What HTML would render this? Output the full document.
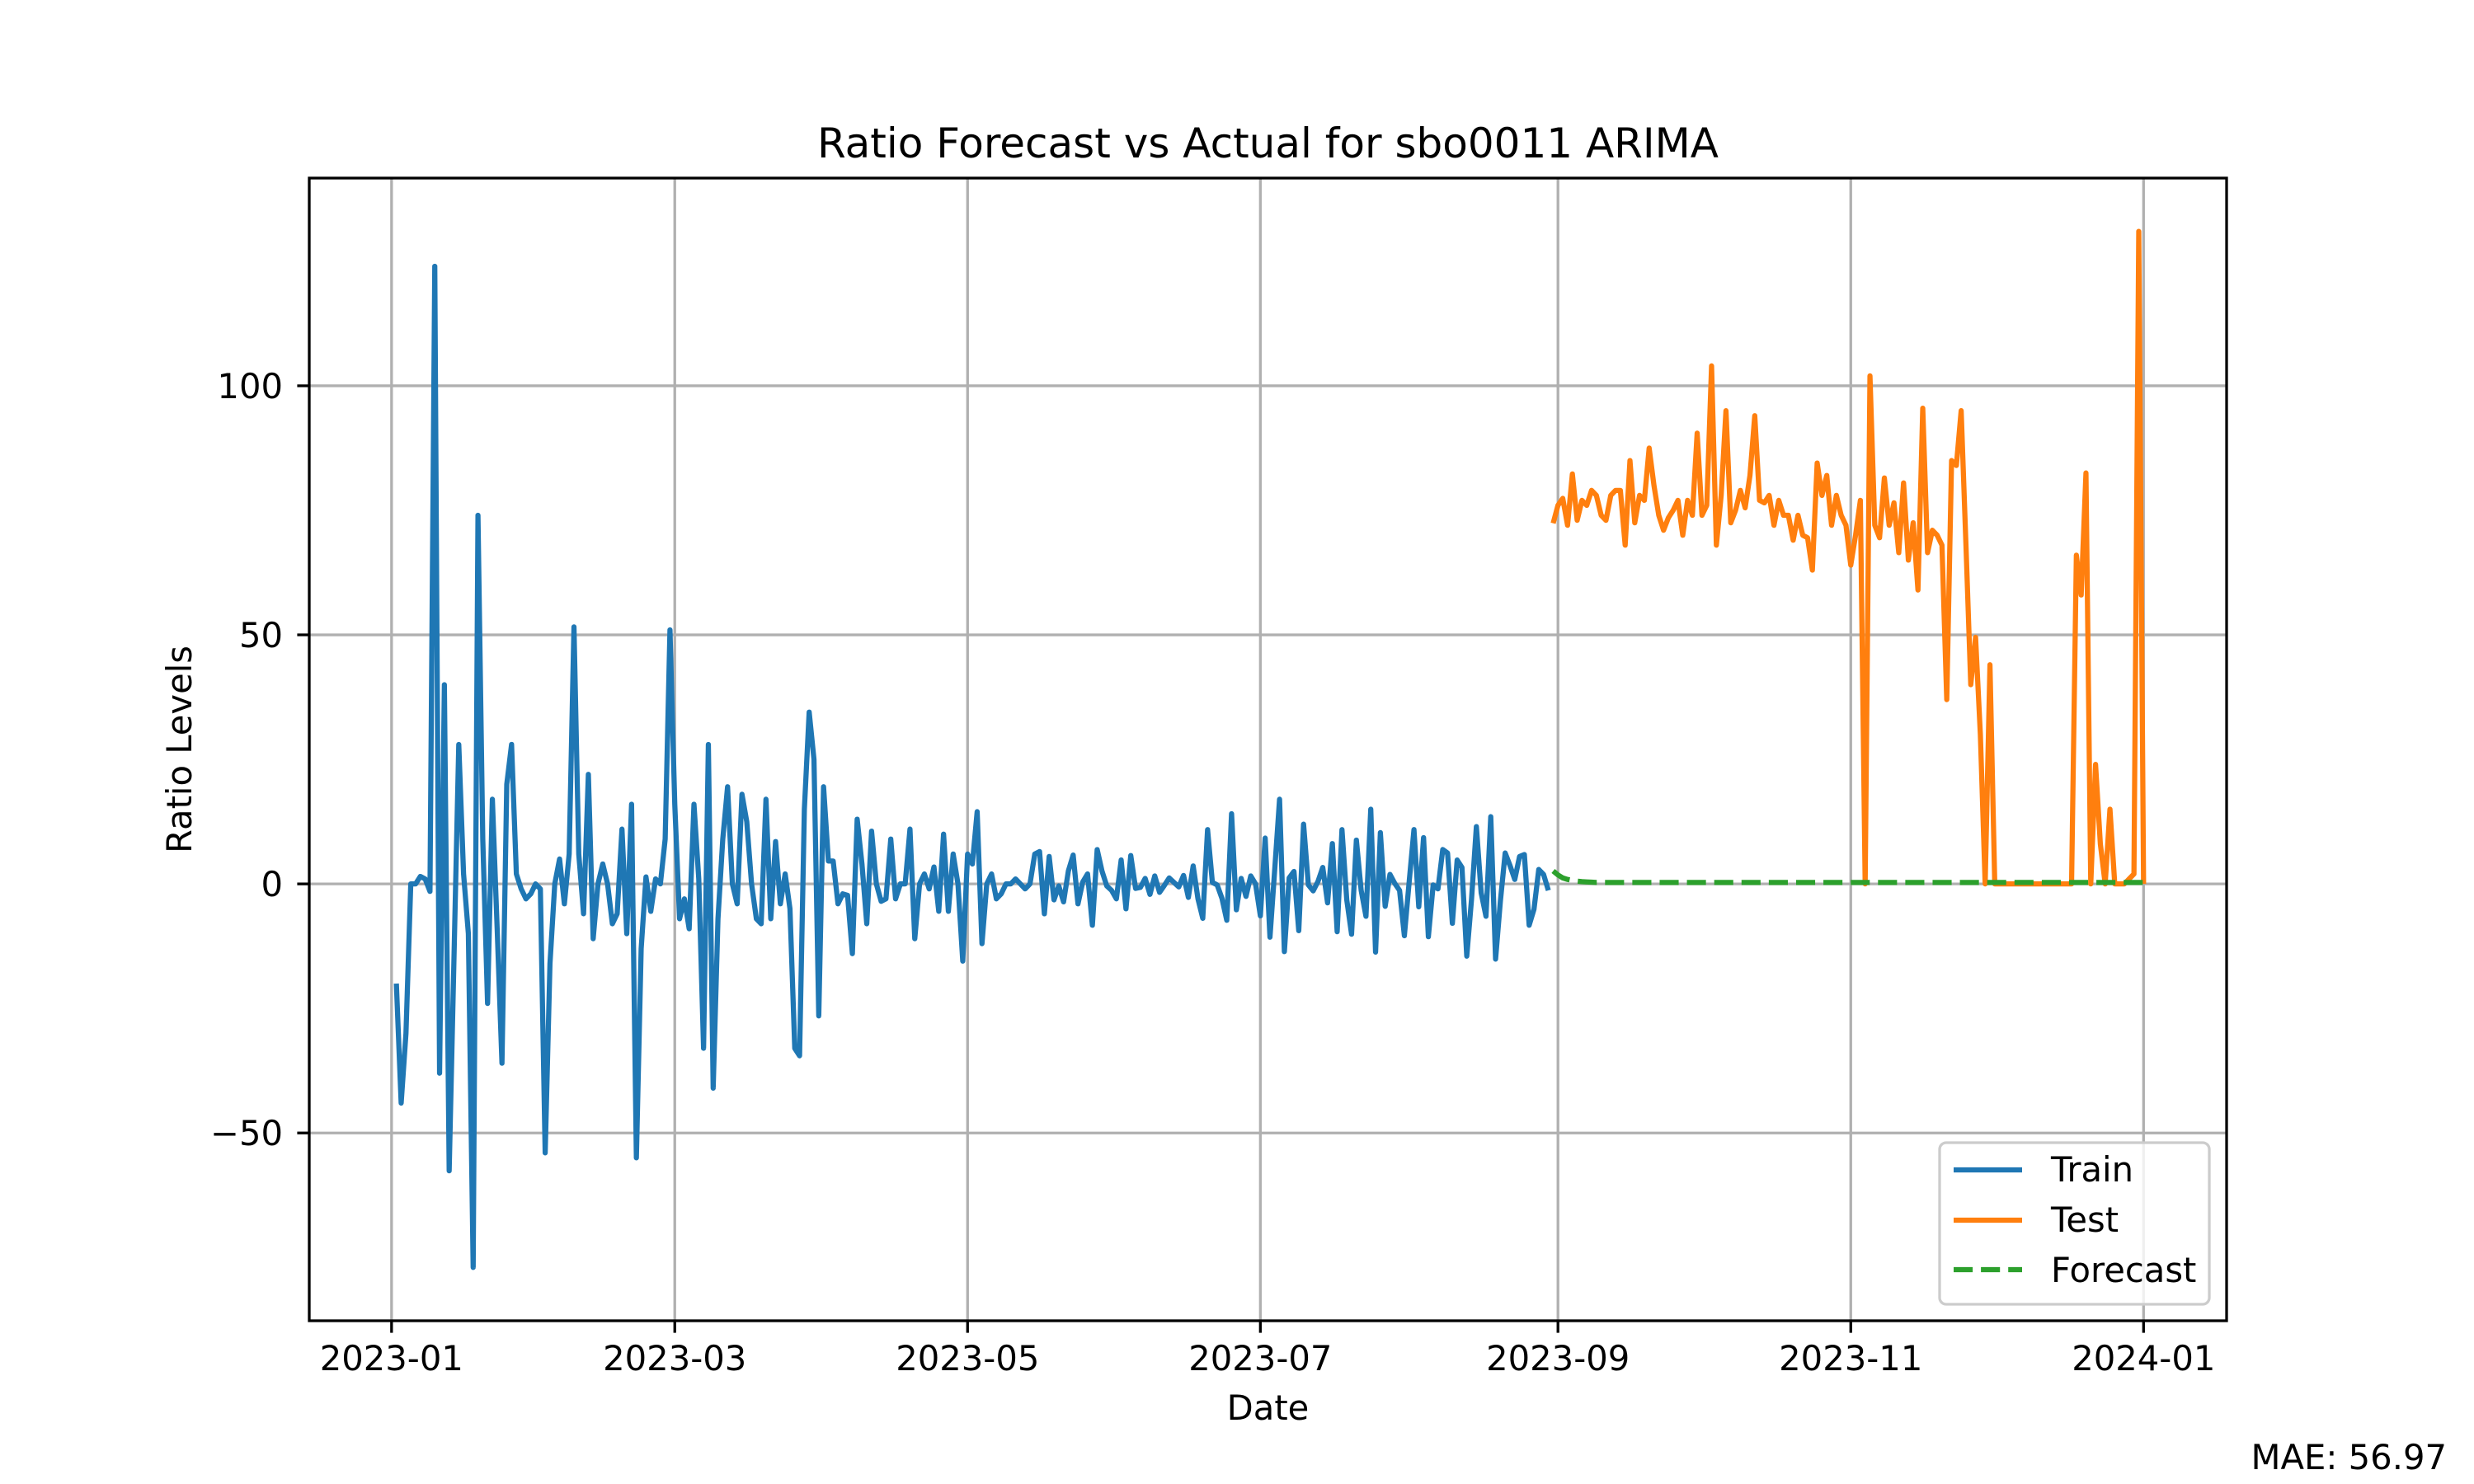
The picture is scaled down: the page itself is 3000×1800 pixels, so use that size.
<!DOCTYPE html>
<html><head><meta charset="utf-8"><style>
html,body{margin:0;padding:0;background:#fff;}
svg{display:block;font-family:"DejaVu Sans","Liberation Sans",sans-serif;}
</style></head><body>
<svg id="chart" width="3000" height="1800" viewBox="0 0 3000 1800" xmlns="http://www.w3.org/2000/svg">
<rect x="0" y="0" width="3000" height="1800" fill="#fff"/>
<g id="grid"></g>
<g id="series"></g>
<g id="axes"></g>
<text x="1537.5" y="191" text-anchor="middle" font-size="50" fill="#000">Ratio Forecast vs Actual for sbo0011 ARIMA</text>
<text x="1537.5" y="1722" text-anchor="middle" font-size="41.7" fill="#000">Date</text>
<text x="0" y="0" transform="translate(232,909) rotate(-90)" text-anchor="middle" font-size="41.7" fill="#000">Ratio Levels</text>
<text x="2967" y="1782" text-anchor="end" font-size="41.7" fill="#000">MAE: 56.97</text>
<g>
<rect x="2352" y="1386" width="327" height="196" rx="8" ry="8" fill="#fff" fill-opacity="0.8" stroke="#cccccc" stroke-width="3.3"/>
<line x1="2369" y1="1419" x2="2452" y2="1419" stroke="#1f77b4" stroke-width="6.25"/>
<text x="2487" y="1433" font-size="41.7" fill="#000">Train</text>
<line x1="2369" y1="1480" x2="2452" y2="1480" stroke="#ff7f0e" stroke-width="6.25"/>
<text x="2487" y="1494" font-size="41.7" fill="#000">Test</text>
<line x1="2369" y1="1540" x2="2452" y2="1540" stroke="#2ca02c" stroke-width="6.25" stroke-dasharray="23.1 10"/>
<text x="2487" y="1555" font-size="41.7" fill="#000">Forecast</text>
</g>
</svg>
<script>
const trainValues = [-20,-44,-30,0,0,1.5,1,-1.5,124,-38,40,-57.6,-15,28,2,-10,-77,74,9,-24,17,-9,-36,20,28,2,-1,-3,-2,0,-1,-54,-16,0,5,-4,6,51.6,6,-6,22,-11,0,4,0,-8,-6,11,-10,16,-55,-13,1.4,-5.5,1,0,9,51,16,-7,-3,-9,16,1,-33,28,-41,-7,9,19.5,0,-4,18,12.5,0,-7,-8,17,-7,8.5,-4,2,-5,-33,-34.5,15,34.5,25,-26.5,19.5,4.6,4.6,-4,-2,-2.3,-14,13,4,-8,10.6,0,-3.5,-3,9,-3,0,0,11,-11,0,2,-1,3.4,-5.5,10,-5.5,6,0,-15.5,6,4,14.5,-12,0,2,-3,-2,0,0,1,0,-1,0,6,
6.5,-6,5.5,-3.2,-0.4,-3.6,2.6,5.8,-4,0.4,2,-8.3,6.9,2.6,-0.4,-1.3,-3,4.8,-5,5.7,-0.9,-0.7,1.1,-2.1,1.6,-1.7,-0.3,1.2,0.3,-0.6,1.7,-2.7,3.6,-3,-6.9,10.9,0.3,-0.2,-2.9,-7.3,14.1,-5.2,1.1,-2.5,1.6,0,-6.4,9.2,-10.7,3,17,-13.6,1.2,2.5,-9.4,12,-0.2,-1.4,0.5,3.3,-3.8,8.1,-9.6,10.9,-3.2,-10.1,8.8,-1.3,-6.5,15,-13.7,10.3,-4.5,1.9,0.1,-1.3,-10.4,0.4,10.9,-4.6,9.3,-10.6,-0.2,-1,6.9,6.2,-7.9,4.8,3.3,-14.5,-3,11.5,-1.8,-6.5,13.5,-15.1,-3.5,6.2,3.7,0.9,5.5,5.9,-8.3,-5.1,2.9,1.9,-1.3];
const testValues = [72.4,76,77.4,72,82.3,73,77,76,79,78,74,73,78,79,79,68,85,72.5,78,77,87.5,80,74,71,73.5,75,77,70,77,74,90.5,74,76,104,68,78,95,72.5,75,79,75.5,82,94,77,76.5,78,72,77,74,74,69,74,70,69.5,63,84.5,78,82,72,78,74,72,64,70,77,0,102,72,69.5,81.5,72,76.5,66.5,80.5,65,72.5,59,95.5,66.5,71,70,68,37,85,84,95,68,40,49.5,30,0,44,0,0,0,0,0,0,0,0,0,0,0,0,0,0,0,0,0,66,58,82.5,0,24,8,0,15,0,0,0,1,2,131,0];
const forecastValues = [2.6,1.8,1.2,0.9,0.7,0.55,0.45,0.4,0.35,0.3,0.3,0.3,0.3,0.3,0.3,0.3,0.3,0.3,0.3,0.3,0.3,0.3,0.3,0.3,0.3,0.3,0.3,0.3,0.3,0.3,0.3,0.3,0.3,0.3,0.3,0.3,0.3,0.3,0.3,0.3,0.3,0.3,0.3,0.3,0.3,0.3,0.3,0.3,0.3,0.3,0.3,0.3,0.3,0.3,0.3,0.3,0.3,0.3,0.3,0.3,0.3,0.3,0.3,0.3,0.3,0.3,0.3,0.3,0.3,0.3,0.3,0.3,0.3,0.3,0.3,0.3,0.3,0.3,0.3,0.3,0.3,0.3,0.3,0.3,0.3,0.3,0.3,0.3,0.3,0.3,0.3,0.3,0.3,0.3,0.3,0.3,0.3,0.3,0.3,0.3,0.3,0.3,0.3,0.3,0.3,0.3,0.3,0.3,0.3,0.3,0.3,0.3,0.3,0.3,0.3,0.3,0.3,0.3,0.3,0.3,0.3,0.3,0.3,0.3];
const xTickLabels = ["2023-01","2023-03","2023-05","2023-07","2023-09","2023-11","2024-01"];
const xTickDays = [-1,58,119,180,242,303,364];
const yTickValues = [-50,0,50,100];
const yTickLabels = ["\u221250","0","50","100"];

const L=375,R=2700,T=216,B=1602;
const dayMin=-18.15, dayMax=381.3;
const yMin=-87.7, yMax=141.7;
function xs(d){return L+(d-dayMin)/(dayMax-dayMin)*(R-L);}
function ys(v){return B-(v-yMin)/(yMax-yMin)*(B-T);}
const NS="http://www.w3.org/2000/svg";
function mk(tag,attrs,parent){const e=document.createElementNS(NS,tag);for(const k in attrs)e.setAttribute(k,attrs[k]);parent.appendChild(e);return e;}
const grid=document.getElementById('grid'),axes=document.getElementById('axes'),series=document.getElementById('series');

xTickDays.forEach((d,i)=>{
  const x=xs(d);
  const g=mk('line',{x1:x,y1:T,x2:x,y2:B,stroke:'#b0b0b0','stroke-width':3.3},grid);
  
  
  const t=mk('line',{x1:x,y1:B,x2:x,y2:B+14.6,stroke:'#000','stroke-width':3.3},axes);
  
  
  const lb=mk('text',{x:x,y:1662,'text-anchor':'middle','font-size':41.7,fill:'#000'},axes);
  lb.textContent=xTickLabels[i];
  
  
});
yTickValues.forEach((v,i)=>{
  const y=ys(v);
  const g=mk('line',{x1:L,y1:y,x2:R,y2:y,stroke:'#b0b0b0','stroke-width':3.3},grid);
  
  
  const t=mk('line',{x1:L-14.6,y1:y,x2:L,y2:y,stroke:'#000','stroke-width':3.3},axes);
  
  
  const lb=mk('text',{x:343,y:y+15,'text-anchor':'end','font-size':41.7,fill:'#000'},axes);
  lb.textContent=yTickLabels[i];
  
  
});
const frame=mk('rect',{x:L,y:T,width:R-L,height:B-T,fill:'none',stroke:'#000','stroke-width':3.3},axes);



function pts(vals,off){return vals.map((v,i)=>xs(off+i).toFixed(2)+','+ys(v).toFixed(2)).join(' ');}
const trainLine=mk('polyline',{points:pts(trainValues,0),fill:'none',stroke:'#1f77b4','stroke-width':6.25,'stroke-linejoin':'round'},series);


const testLine=mk('polyline',{points:pts(testValues,trainValues.length),fill:'none',stroke:'#ff7f0e','stroke-width':6.25,'stroke-linejoin':'round'},series);


const fcLine=mk('polyline',{points:pts(forecastValues,trainValues.length),fill:'none',stroke:'#2ca02c','stroke-width':6.25,'stroke-dasharray':'23.1 10'},series);


</script>
</body></html>
